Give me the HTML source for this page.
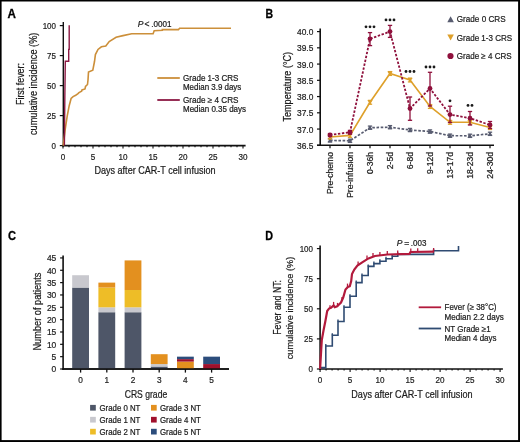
<!DOCTYPE html>
<html><head><meta charset="utf-8"><style>
html,body{margin:0;padding:0;background:#fff;position:relative;width:520px;height:442px;overflow:hidden;}
svg{display:block;filter:blur(0.3px);}
text{font-family:"Liberation Sans", sans-serif;stroke:#1c1c1c;stroke-width:0.22px;}
text.b{stroke:#000;stroke-width:0.3px;}
</style></head><body>
<svg width="520" height="442" viewBox="0 0 520 442">
<rect x="0" y="0" width="520" height="442" fill="#fff"/>
<text x="7.6" y="18.2" font-size="12.8" text-anchor="start" fill="#000" font-weight="bold" class="b" textLength="8.4" lengthAdjust="spacingAndGlyphs" >A</text>
<line x1="63.3" y1="22.0" x2="63.3" y2="146.4" stroke="#111" stroke-width="1.4" />
<line x1="62.2" y1="145.6" x2="245.6" y2="145.6" stroke="#111" stroke-width="1.6" />
<line x1="59.8" y1="145.6" x2="63.0" y2="145.6" stroke="#111" stroke-width="1.2" />
<text x="56" y="149.0" font-size="9.5" text-anchor="end" fill="#1c1c1c" textLength="4.45" lengthAdjust="spacingAndGlyphs" >0</text>
<line x1="59.8" y1="115.6" x2="63.0" y2="115.6" stroke="#111" stroke-width="1.2" />
<text x="56" y="119.0" font-size="9.5" text-anchor="end" fill="#1c1c1c" textLength="8.9" lengthAdjust="spacingAndGlyphs" >25</text>
<line x1="59.8" y1="85.6" x2="63.0" y2="85.6" stroke="#111" stroke-width="1.2" />
<text x="56" y="89.0" font-size="9.5" text-anchor="end" fill="#1c1c1c" textLength="8.9" lengthAdjust="spacingAndGlyphs" >50</text>
<line x1="59.8" y1="55.599999999999994" x2="63.0" y2="55.599999999999994" stroke="#111" stroke-width="1.2" />
<text x="56" y="58.99999999999999" font-size="9.5" text-anchor="end" fill="#1c1c1c" textLength="8.9" lengthAdjust="spacingAndGlyphs" >75</text>
<line x1="59.8" y1="25.599999999999994" x2="63.0" y2="25.599999999999994" stroke="#111" stroke-width="1.2" />
<text x="56" y="28.999999999999993" font-size="9.5" text-anchor="end" fill="#1c1c1c" textLength="13.350000000000001" lengthAdjust="spacingAndGlyphs" >100</text>
<line x1="63.0" y1="145.6" x2="63.0" y2="148.6" stroke="#111" stroke-width="1.1" />
<text x="63.0" y="160.0" font-size="9.3" text-anchor="middle" fill="#1c1c1c" textLength="4.5" lengthAdjust="spacingAndGlyphs" >0</text>
<line x1="69.0" y1="145.6" x2="69.0" y2="147.2" stroke="#111" stroke-width="1.1" />
<line x1="75.0" y1="145.6" x2="75.0" y2="147.2" stroke="#111" stroke-width="1.1" />
<line x1="81.0" y1="145.6" x2="81.0" y2="147.2" stroke="#111" stroke-width="1.1" />
<line x1="87.0" y1="145.6" x2="87.0" y2="147.2" stroke="#111" stroke-width="1.1" />
<line x1="93.0" y1="145.6" x2="93.0" y2="148.6" stroke="#111" stroke-width="1.1" />
<text x="93.0" y="160.0" font-size="9.3" text-anchor="middle" fill="#1c1c1c" textLength="4.5" lengthAdjust="spacingAndGlyphs" >5</text>
<line x1="99.0" y1="145.6" x2="99.0" y2="147.2" stroke="#111" stroke-width="1.1" />
<line x1="105.0" y1="145.6" x2="105.0" y2="147.2" stroke="#111" stroke-width="1.1" />
<line x1="111.0" y1="145.6" x2="111.0" y2="147.2" stroke="#111" stroke-width="1.1" />
<line x1="117.0" y1="145.6" x2="117.0" y2="147.2" stroke="#111" stroke-width="1.1" />
<line x1="123.0" y1="145.6" x2="123.0" y2="148.6" stroke="#111" stroke-width="1.1" />
<text x="123.0" y="160.0" font-size="9.3" text-anchor="middle" fill="#1c1c1c" textLength="9.0" lengthAdjust="spacingAndGlyphs" >10</text>
<line x1="129.0" y1="145.6" x2="129.0" y2="147.2" stroke="#111" stroke-width="1.1" />
<line x1="135.0" y1="145.6" x2="135.0" y2="147.2" stroke="#111" stroke-width="1.1" />
<line x1="141.0" y1="145.6" x2="141.0" y2="147.2" stroke="#111" stroke-width="1.1" />
<line x1="147.0" y1="145.6" x2="147.0" y2="147.2" stroke="#111" stroke-width="1.1" />
<line x1="153.0" y1="145.6" x2="153.0" y2="148.6" stroke="#111" stroke-width="1.1" />
<text x="153.0" y="160.0" font-size="9.3" text-anchor="middle" fill="#1c1c1c" textLength="9.0" lengthAdjust="spacingAndGlyphs" >15</text>
<line x1="159.0" y1="145.6" x2="159.0" y2="147.2" stroke="#111" stroke-width="1.1" />
<line x1="165.0" y1="145.6" x2="165.0" y2="147.2" stroke="#111" stroke-width="1.1" />
<line x1="171.0" y1="145.6" x2="171.0" y2="147.2" stroke="#111" stroke-width="1.1" />
<line x1="177.0" y1="145.6" x2="177.0" y2="147.2" stroke="#111" stroke-width="1.1" />
<line x1="183.0" y1="145.6" x2="183.0" y2="148.6" stroke="#111" stroke-width="1.1" />
<text x="183.0" y="160.0" font-size="9.3" text-anchor="middle" fill="#1c1c1c" textLength="9.0" lengthAdjust="spacingAndGlyphs" >20</text>
<line x1="189.0" y1="145.6" x2="189.0" y2="147.2" stroke="#111" stroke-width="1.1" />
<line x1="195.0" y1="145.6" x2="195.0" y2="147.2" stroke="#111" stroke-width="1.1" />
<line x1="201.0" y1="145.6" x2="201.0" y2="147.2" stroke="#111" stroke-width="1.1" />
<line x1="207.0" y1="145.6" x2="207.0" y2="147.2" stroke="#111" stroke-width="1.1" />
<line x1="213.0" y1="145.6" x2="213.0" y2="148.6" stroke="#111" stroke-width="1.1" />
<text x="213.0" y="160.0" font-size="9.3" text-anchor="middle" fill="#1c1c1c" textLength="9.0" lengthAdjust="spacingAndGlyphs" >25</text>
<line x1="219.0" y1="145.6" x2="219.0" y2="147.2" stroke="#111" stroke-width="1.1" />
<line x1="225.0" y1="145.6" x2="225.0" y2="147.2" stroke="#111" stroke-width="1.1" />
<line x1="231.0" y1="145.6" x2="231.0" y2="147.2" stroke="#111" stroke-width="1.1" />
<line x1="237.0" y1="145.6" x2="237.0" y2="147.2" stroke="#111" stroke-width="1.1" />
<line x1="243.0" y1="145.6" x2="243.0" y2="148.6" stroke="#111" stroke-width="1.1" />
<text x="243.0" y="160.0" font-size="9.3" text-anchor="middle" fill="#1c1c1c" textLength="9.0" lengthAdjust="spacingAndGlyphs" >30</text>
<text x="94.4" y="174.2" font-size="10.6" text-anchor="start" fill="#1c1c1c" textLength="121.2" lengthAdjust="spacingAndGlyphs" >Days after CAR-T cell infusion</text>
<text x="23.8" y="84" font-size="10.0" text-anchor="middle" fill="#1c1c1c" textLength="42" lengthAdjust="spacingAndGlyphs" transform="rotate(-90 23.8 84)" >First fever:</text>
<text x="36.7" y="83.8" font-size="10.0" text-anchor="middle" fill="#1c1c1c" textLength="102.5" lengthAdjust="spacingAndGlyphs" transform="rotate(-90 36.7 83.8)" >cumulative incidence (%)</text>
<text x="137.8" y="27.0" font-size="8.5" text-anchor="start" fill="#1c1c1c" font-style="italic" >P</text>
<text x="144.6" y="27.0" font-size="8.5" text-anchor="start" fill="#1c1c1c" >&lt;</text>
<text x="151.2" y="27.0" font-size="8.5" text-anchor="start" fill="#1c1c1c" textLength="20.2" lengthAdjust="spacingAndGlyphs" >.0001</text>
<polyline points="63.2,145.6 65.2,129.4 67.2,116.2 69.2,105.7 71.1,98.5 73.1,96.6 75.7,95.2 77.7,93.9 79.0,92.6 81.6,91.3 82.0,90.0 85.0,89.0 85.5,86.5 87.5,84.5 88.0,80.0 88.5,72.0 92.8,70.2 94.5,61.5 95.4,54.6 98.0,49.4 101.4,46.8 105.8,46.0 109.2,41.6 116.1,37.3 123.0,35.6 131.7,33.8 153.1,33.8 154.2,30.8 162.3,30.3 162.3,29.6 178.5,29.6 179.6,28.3 231.0,28.3" fill="none" stroke="#cc8f3a" stroke-width="1.6" stroke-linejoin="miter" />
<polyline points="64.4,145.6 64.8,100.0 65.3,61.3 68.7,61.3 68.7,49.4 69.2,49.4 69.2,25.2" fill="none" stroke="#8c1843" stroke-width="1.4" stroke-linejoin="miter" />
<line x1="157.3" y1="78" x2="179.8" y2="78" stroke="#cc8f3a" stroke-width="1.8" />
<text x="183" y="81.3" font-size="8.6" text-anchor="start" fill="#1c1c1c" textLength="55.5" lengthAdjust="spacingAndGlyphs" >Grade 1-3 CRS</text>
<text x="183" y="90.4" font-size="8.6" text-anchor="start" fill="#1c1c1c" textLength="58.3" lengthAdjust="spacingAndGlyphs" >Median 3.9 days</text>
<line x1="157.3" y1="100" x2="179.8" y2="100" stroke="#8c1843" stroke-width="1.8" />
<text x="183" y="103.1" font-size="8.6" text-anchor="start" fill="#1c1c1c" textLength="55.5" lengthAdjust="spacingAndGlyphs" >Grade ≥ 4 CRS</text>
<text x="183" y="112.1" font-size="8.6" text-anchor="start" fill="#1c1c1c" textLength="63" lengthAdjust="spacingAndGlyphs" >Median 0.35 days</text>
<text x="265.5" y="18.3" font-size="12.8" text-anchor="start" fill="#000" font-weight="bold" class="b" textLength="7.6" lengthAdjust="spacingAndGlyphs" >B</text>
<line x1="320.2" y1="28.6" x2="320.2" y2="146.10000000000002" stroke="#111" stroke-width="1.6" />
<line x1="317.0" y1="145.3" x2="494" y2="145.3" stroke="#111" stroke-width="1.6" />
<line x1="317.0" y1="145.3" x2="320.2" y2="145.3" stroke="#111" stroke-width="1.2" />
<text x="313.3" y="148.8" font-size="9.2" text-anchor="end" fill="#1c1c1c" textLength="16.3" lengthAdjust="spacingAndGlyphs" >36.5</text>
<line x1="317.0" y1="129.055" x2="320.2" y2="129.055" stroke="#111" stroke-width="1.2" />
<text x="313.3" y="132.555" font-size="9.2" text-anchor="end" fill="#1c1c1c" textLength="16.3" lengthAdjust="spacingAndGlyphs" >37.0</text>
<line x1="317.0" y1="112.81" x2="320.2" y2="112.81" stroke="#111" stroke-width="1.2" />
<text x="313.3" y="116.31" font-size="9.2" text-anchor="end" fill="#1c1c1c" textLength="16.3" lengthAdjust="spacingAndGlyphs" >37.5</text>
<line x1="317.0" y1="96.56500000000001" x2="320.2" y2="96.56500000000001" stroke="#111" stroke-width="1.2" />
<text x="313.3" y="100.06500000000001" font-size="9.2" text-anchor="end" fill="#1c1c1c" textLength="16.3" lengthAdjust="spacingAndGlyphs" >38.0</text>
<line x1="317.0" y1="80.32000000000001" x2="320.2" y2="80.32000000000001" stroke="#111" stroke-width="1.2" />
<text x="313.3" y="83.82000000000001" font-size="9.2" text-anchor="end" fill="#1c1c1c" textLength="16.3" lengthAdjust="spacingAndGlyphs" >38.5</text>
<line x1="317.0" y1="64.075" x2="320.2" y2="64.075" stroke="#111" stroke-width="1.2" />
<text x="313.3" y="67.575" font-size="9.2" text-anchor="end" fill="#1c1c1c" textLength="16.3" lengthAdjust="spacingAndGlyphs" >39.0</text>
<line x1="317.0" y1="47.83000000000001" x2="320.2" y2="47.83000000000001" stroke="#111" stroke-width="1.2" />
<text x="313.3" y="51.33000000000001" font-size="9.2" text-anchor="end" fill="#1c1c1c" textLength="16.3" lengthAdjust="spacingAndGlyphs" >39.5</text>
<line x1="317.0" y1="31.585000000000008" x2="320.2" y2="31.585000000000008" stroke="#111" stroke-width="1.2" />
<text x="313.3" y="35.08500000000001" font-size="9.2" text-anchor="end" fill="#1c1c1c" textLength="16.3" lengthAdjust="spacingAndGlyphs" >40.0</text>
<line x1="330" y1="145.3" x2="330" y2="148.3" stroke="#111" stroke-width="1.2" />
<text x="333.1" y="152" font-size="8.6" text-anchor="end" fill="#1c1c1c" transform="rotate(-90 333.1 152)" >Pre-chemo</text>
<line x1="350" y1="145.3" x2="350" y2="148.3" stroke="#111" stroke-width="1.2" />
<text x="353.1" y="152" font-size="8.6" text-anchor="end" fill="#1c1c1c" transform="rotate(-90 353.1 152)" >Pre-infusion</text>
<line x1="370" y1="145.3" x2="370" y2="148.3" stroke="#111" stroke-width="1.2" />
<text x="373.1" y="152" font-size="8.6" text-anchor="end" fill="#1c1c1c" transform="rotate(-90 373.1 152)" >0-36h</text>
<line x1="390" y1="145.3" x2="390" y2="148.3" stroke="#111" stroke-width="1.2" />
<text x="393.1" y="152" font-size="8.6" text-anchor="end" fill="#1c1c1c" transform="rotate(-90 393.1 152)" >2-5d</text>
<line x1="410" y1="145.3" x2="410" y2="148.3" stroke="#111" stroke-width="1.2" />
<text x="413.1" y="152" font-size="8.6" text-anchor="end" fill="#1c1c1c" transform="rotate(-90 413.1 152)" >6-8d</text>
<line x1="430" y1="145.3" x2="430" y2="148.3" stroke="#111" stroke-width="1.2" />
<text x="433.1" y="152" font-size="8.6" text-anchor="end" fill="#1c1c1c" transform="rotate(-90 433.1 152)" >9-12d</text>
<line x1="450" y1="145.3" x2="450" y2="148.3" stroke="#111" stroke-width="1.2" />
<text x="453.1" y="152" font-size="8.6" text-anchor="end" fill="#1c1c1c" transform="rotate(-90 453.1 152)" >13-17d</text>
<line x1="470" y1="145.3" x2="470" y2="148.3" stroke="#111" stroke-width="1.2" />
<text x="473.1" y="152" font-size="8.6" text-anchor="end" fill="#1c1c1c" transform="rotate(-90 473.1 152)" >18-23d</text>
<line x1="490" y1="145.3" x2="490" y2="148.3" stroke="#111" stroke-width="1.2" />
<text x="493.1" y="152" font-size="8.6" text-anchor="end" fill="#1c1c1c" transform="rotate(-90 493.1 152)" >24-30d</text>
<text x="291.5" y="86.7" font-size="10.4" text-anchor="middle" fill="#1c1c1c" textLength="69.7" lengthAdjust="spacingAndGlyphs" transform="rotate(-90 291.5 86.7)" >Temperature (°C)</text>
<line x1="330" y1="138.8" x2="330" y2="142.0" stroke="#585c70" stroke-width="1.3" />
<line x1="327.85" y1="138.8" x2="332.15" y2="138.8" stroke="#585c70" stroke-width="1.3" />
<line x1="327.85" y1="142.0" x2="332.15" y2="142.0" stroke="#585c70" stroke-width="1.3" />
<line x1="350" y1="139.20000000000002" x2="350" y2="142.4" stroke="#585c70" stroke-width="1.3" />
<line x1="347.85" y1="139.20000000000002" x2="352.15" y2="139.20000000000002" stroke="#585c70" stroke-width="1.3" />
<line x1="347.85" y1="142.4" x2="352.15" y2="142.4" stroke="#585c70" stroke-width="1.3" />
<line x1="370" y1="126.10000000000001" x2="370" y2="129.3" stroke="#585c70" stroke-width="1.3" />
<line x1="367.85" y1="126.10000000000001" x2="372.15" y2="126.10000000000001" stroke="#585c70" stroke-width="1.3" />
<line x1="367.85" y1="129.3" x2="372.15" y2="129.3" stroke="#585c70" stroke-width="1.3" />
<line x1="390" y1="125.60000000000001" x2="390" y2="128.8" stroke="#585c70" stroke-width="1.3" />
<line x1="387.85" y1="125.60000000000001" x2="392.15" y2="125.60000000000001" stroke="#585c70" stroke-width="1.3" />
<line x1="387.85" y1="128.8" x2="392.15" y2="128.8" stroke="#585c70" stroke-width="1.3" />
<line x1="410" y1="128.4" x2="410" y2="131.6" stroke="#585c70" stroke-width="1.3" />
<line x1="407.85" y1="128.4" x2="412.15" y2="128.4" stroke="#585c70" stroke-width="1.3" />
<line x1="407.85" y1="131.6" x2="412.15" y2="131.6" stroke="#585c70" stroke-width="1.3" />
<line x1="430" y1="129.9" x2="430" y2="133.1" stroke="#585c70" stroke-width="1.3" />
<line x1="427.85" y1="129.9" x2="432.15" y2="129.9" stroke="#585c70" stroke-width="1.3" />
<line x1="427.85" y1="133.1" x2="432.15" y2="133.1" stroke="#585c70" stroke-width="1.3" />
<line x1="450" y1="134.1" x2="450" y2="137.29999999999998" stroke="#585c70" stroke-width="1.3" />
<line x1="447.85" y1="134.1" x2="452.15" y2="134.1" stroke="#585c70" stroke-width="1.3" />
<line x1="447.85" y1="137.29999999999998" x2="452.15" y2="137.29999999999998" stroke="#585c70" stroke-width="1.3" />
<line x1="470" y1="134.20000000000002" x2="470" y2="137.4" stroke="#585c70" stroke-width="1.3" />
<line x1="467.85" y1="134.20000000000002" x2="472.15" y2="134.20000000000002" stroke="#585c70" stroke-width="1.3" />
<line x1="467.85" y1="137.4" x2="472.15" y2="137.4" stroke="#585c70" stroke-width="1.3" />
<line x1="490" y1="132.20000000000002" x2="490" y2="135.4" stroke="#585c70" stroke-width="1.3" />
<line x1="487.85" y1="132.20000000000002" x2="492.15" y2="132.20000000000002" stroke="#585c70" stroke-width="1.3" />
<line x1="487.85" y1="135.4" x2="492.15" y2="135.4" stroke="#585c70" stroke-width="1.3" />
<polyline points="330.0,140.4 350.0,140.8 370.0,127.7 390.0,127.2 410.0,130.0 430.0,131.5 450.0,135.7 470.0,135.8 490.0,133.8" fill="none" stroke="#585c70" stroke-width="1.7" stroke-linejoin="miter" stroke-dasharray="2.6 1.6"/>
<polygon points="327.6,142.3 332.4,142.3 330,138.1" fill="#585c70"/>
<polygon points="347.6,142.70000000000002 352.4,142.70000000000002 350,138.5" fill="#585c70"/>
<polygon points="367.6,129.6 372.4,129.6 370,125.4" fill="#585c70"/>
<polygon points="387.6,129.1 392.4,129.1 390,124.9" fill="#585c70"/>
<polygon points="407.6,131.9 412.4,131.9 410,127.7" fill="#585c70"/>
<polygon points="427.6,133.4 432.4,133.4 430,129.2" fill="#585c70"/>
<polygon points="447.6,137.6 452.4,137.6 450,133.39999999999998" fill="#585c70"/>
<polygon points="467.6,137.70000000000002 472.4,137.70000000000002 470,133.5" fill="#585c70"/>
<polygon points="487.6,135.70000000000002 492.4,135.70000000000002 490,131.5" fill="#585c70"/>
<line x1="330" y1="135.1" x2="330" y2="138.9" stroke="#dea02a" stroke-width="1.3" />
<line x1="327.85" y1="135.1" x2="332.15" y2="135.1" stroke="#dea02a" stroke-width="1.3" />
<line x1="327.85" y1="138.9" x2="332.15" y2="138.9" stroke="#dea02a" stroke-width="1.3" />
<line x1="350" y1="133.5" x2="350" y2="137.3" stroke="#dea02a" stroke-width="1.3" />
<line x1="347.85" y1="133.5" x2="352.15" y2="133.5" stroke="#dea02a" stroke-width="1.3" />
<line x1="347.85" y1="137.3" x2="352.15" y2="137.3" stroke="#dea02a" stroke-width="1.3" />
<line x1="370" y1="100.39999999999999" x2="370" y2="104.2" stroke="#dea02a" stroke-width="1.3" />
<line x1="367.85" y1="100.39999999999999" x2="372.15" y2="100.39999999999999" stroke="#dea02a" stroke-width="1.3" />
<line x1="367.85" y1="104.2" x2="372.15" y2="104.2" stroke="#dea02a" stroke-width="1.3" />
<line x1="390" y1="71.6" x2="390" y2="75.4" stroke="#dea02a" stroke-width="1.3" />
<line x1="387.85" y1="71.6" x2="392.15" y2="71.6" stroke="#dea02a" stroke-width="1.3" />
<line x1="387.85" y1="75.4" x2="392.15" y2="75.4" stroke="#dea02a" stroke-width="1.3" />
<line x1="410" y1="78.1" x2="410" y2="81.9" stroke="#dea02a" stroke-width="1.3" />
<line x1="407.85" y1="78.1" x2="412.15" y2="78.1" stroke="#dea02a" stroke-width="1.3" />
<line x1="407.85" y1="81.9" x2="412.15" y2="81.9" stroke="#dea02a" stroke-width="1.3" />
<line x1="430" y1="104.6" x2="430" y2="108.4" stroke="#dea02a" stroke-width="1.3" />
<line x1="427.85" y1="104.6" x2="432.15" y2="104.6" stroke="#dea02a" stroke-width="1.3" />
<line x1="427.85" y1="108.4" x2="432.15" y2="108.4" stroke="#dea02a" stroke-width="1.3" />
<line x1="450" y1="120.39999999999999" x2="450" y2="124.2" stroke="#dea02a" stroke-width="1.3" />
<line x1="447.85" y1="120.39999999999999" x2="452.15" y2="120.39999999999999" stroke="#dea02a" stroke-width="1.3" />
<line x1="447.85" y1="124.2" x2="452.15" y2="124.2" stroke="#dea02a" stroke-width="1.3" />
<line x1="470" y1="120.39999999999999" x2="470" y2="124.2" stroke="#dea02a" stroke-width="1.3" />
<line x1="467.85" y1="120.39999999999999" x2="472.15" y2="120.39999999999999" stroke="#dea02a" stroke-width="1.3" />
<line x1="467.85" y1="124.2" x2="472.15" y2="124.2" stroke="#dea02a" stroke-width="1.3" />
<line x1="490" y1="125.69999999999999" x2="490" y2="129.5" stroke="#dea02a" stroke-width="1.3" />
<line x1="487.85" y1="125.69999999999999" x2="492.15" y2="125.69999999999999" stroke="#dea02a" stroke-width="1.3" />
<line x1="487.85" y1="129.5" x2="492.15" y2="129.5" stroke="#dea02a" stroke-width="1.3" />
<polyline points="330.0,137.0 350.0,135.4 370.0,102.3 390.0,73.5 410.0,80.0 430.0,106.5 450.0,122.3 470.0,122.3 490.0,127.6" fill="none" stroke="#dea02a" stroke-width="1.6" stroke-linejoin="miter" />
<polygon points="327.5,135.0 332.5,135.0 330,139.4" fill="#dea02a"/>
<polygon points="347.5,133.4 352.5,133.4 350,137.8" fill="#dea02a"/>
<polygon points="367.5,100.3 372.5,100.3 370,104.7" fill="#dea02a"/>
<polygon points="387.5,71.5 392.5,71.5 390,75.9" fill="#dea02a"/>
<polygon points="407.5,78 412.5,78 410,82.4" fill="#dea02a"/>
<polygon points="427.5,104.5 432.5,104.5 430,108.9" fill="#dea02a"/>
<polygon points="447.5,120.3 452.5,120.3 450,124.7" fill="#dea02a"/>
<polygon points="467.5,120.3 472.5,120.3 470,124.7" fill="#dea02a"/>
<polygon points="487.5,125.6 492.5,125.6 490,130.0" fill="#dea02a"/>
<line x1="330" y1="133.6" x2="330" y2="136.6" stroke="#8f103c" stroke-width="1.3" />
<line x1="327.85" y1="133.6" x2="332.15" y2="133.6" stroke="#8f103c" stroke-width="1.3" />
<line x1="327.85" y1="136.6" x2="332.15" y2="136.6" stroke="#8f103c" stroke-width="1.3" />
<line x1="350" y1="130.4" x2="350" y2="134.2" stroke="#8f103c" stroke-width="1.3" />
<line x1="347.85" y1="130.4" x2="352.15" y2="130.4" stroke="#8f103c" stroke-width="1.3" />
<line x1="347.85" y1="134.2" x2="352.15" y2="134.2" stroke="#8f103c" stroke-width="1.3" />
<line x1="370" y1="32.6" x2="370" y2="45.6" stroke="#8f103c" stroke-width="1.3" />
<line x1="367.85" y1="32.6" x2="372.15" y2="32.6" stroke="#8f103c" stroke-width="1.3" />
<line x1="367.85" y1="45.6" x2="372.15" y2="45.6" stroke="#8f103c" stroke-width="1.3" />
<line x1="390" y1="25.4" x2="390" y2="37.4" stroke="#8f103c" stroke-width="1.3" />
<line x1="387.85" y1="25.4" x2="392.15" y2="25.4" stroke="#8f103c" stroke-width="1.3" />
<line x1="387.85" y1="37.4" x2="392.15" y2="37.4" stroke="#8f103c" stroke-width="1.3" />
<line x1="410" y1="97" x2="410" y2="120.3" stroke="#8f103c" stroke-width="1.3" />
<line x1="407.85" y1="97" x2="412.15" y2="97" stroke="#8f103c" stroke-width="1.3" />
<line x1="407.85" y1="120.3" x2="412.15" y2="120.3" stroke="#8f103c" stroke-width="1.3" />
<line x1="430" y1="72.3" x2="430" y2="106" stroke="#8f103c" stroke-width="1.3" />
<line x1="427.85" y1="72.3" x2="432.15" y2="72.3" stroke="#8f103c" stroke-width="1.3" />
<line x1="427.85" y1="106" x2="432.15" y2="106" stroke="#8f103c" stroke-width="1.3" />
<line x1="450" y1="106.2" x2="450" y2="122.5" stroke="#8f103c" stroke-width="1.3" />
<line x1="447.85" y1="106.2" x2="452.15" y2="106.2" stroke="#8f103c" stroke-width="1.3" />
<line x1="447.85" y1="122.5" x2="452.15" y2="122.5" stroke="#8f103c" stroke-width="1.3" />
<line x1="470" y1="111.5" x2="470" y2="125" stroke="#8f103c" stroke-width="1.3" />
<line x1="467.85" y1="111.5" x2="472.15" y2="111.5" stroke="#8f103c" stroke-width="1.3" />
<line x1="467.85" y1="125" x2="472.15" y2="125" stroke="#8f103c" stroke-width="1.3" />
<line x1="490" y1="121.5" x2="490" y2="128.5" stroke="#8f103c" stroke-width="1.3" />
<line x1="487.85" y1="121.5" x2="492.15" y2="121.5" stroke="#8f103c" stroke-width="1.3" />
<line x1="487.85" y1="128.5" x2="492.15" y2="128.5" stroke="#8f103c" stroke-width="1.3" />
<polyline points="330.0,135.0 350.0,132.2 370.0,38.8 390.0,31.6 410.0,108.5 430.0,88.5 450.0,114.6 470.0,118.2 490.0,125.0" fill="none" stroke="#8f103c" stroke-width="1.8" stroke-linejoin="miter" stroke-dasharray="2.4 1.6"/>
<circle cx="330" cy="135.0" r="2.4" fill="#8f103c"/>
<circle cx="350" cy="132.2" r="2.4" fill="#8f103c"/>
<circle cx="370" cy="38.8" r="2.4" fill="#8f103c"/>
<circle cx="390" cy="31.6" r="2.4" fill="#8f103c"/>
<circle cx="410" cy="108.5" r="2.4" fill="#8f103c"/>
<circle cx="430" cy="88.5" r="2.4" fill="#8f103c"/>
<circle cx="450" cy="114.6" r="2.4" fill="#8f103c"/>
<circle cx="470" cy="118.2" r="2.4" fill="#8f103c"/>
<circle cx="490" cy="125" r="2.4" fill="#8f103c"/>
<circle cx="366.00" cy="26.8" r="1.4" fill="#1a1a1a"/>
<circle cx="370.00" cy="26.8" r="1.4" fill="#1a1a1a"/>
<circle cx="374.00" cy="26.8" r="1.4" fill="#1a1a1a"/>
<circle cx="386.00" cy="19.9" r="1.4" fill="#1a1a1a"/>
<circle cx="390.00" cy="19.9" r="1.4" fill="#1a1a1a"/>
<circle cx="394.00" cy="19.9" r="1.4" fill="#1a1a1a"/>
<circle cx="406.00" cy="71.5" r="1.4" fill="#1a1a1a"/>
<circle cx="410.00" cy="71.5" r="1.4" fill="#1a1a1a"/>
<circle cx="414.00" cy="71.5" r="1.4" fill="#1a1a1a"/>
<circle cx="426.00" cy="67" r="1.4" fill="#1a1a1a"/>
<circle cx="430.00" cy="67" r="1.4" fill="#1a1a1a"/>
<circle cx="434.00" cy="67" r="1.4" fill="#1a1a1a"/>
<circle cx="450.00" cy="100.8" r="1.4" fill="#1a1a1a"/>
<circle cx="468.00" cy="105.4" r="1.4" fill="#1a1a1a"/>
<circle cx="472.00" cy="105.4" r="1.4" fill="#1a1a1a"/>
<polygon points="447.3,22.3 453.9,22.3 450.6,16.2" fill="#585c70"/>
<text x="456.8" y="22.3" font-size="8.9" text-anchor="start" fill="#1c1c1c" textLength="48.8" lengthAdjust="spacingAndGlyphs" >Grade 0 CRS</text>
<polygon points="447.3,34.4 453.9,34.4 450.6,40.5" fill="#dea02a"/>
<text x="456.8" y="40.5" font-size="8.9" text-anchor="start" fill="#1c1c1c" textLength="55.4" lengthAdjust="spacingAndGlyphs" >Grade 1-3 CRS</text>
<circle cx="450.5" cy="56" r="3.1" fill="#8f103c"/>
<text x="456.8" y="59.1" font-size="8.9" text-anchor="start" fill="#1c1c1c" textLength="54.9" lengthAdjust="spacingAndGlyphs" >Grade ≥ 4 CRS</text>
<text x="8.1" y="239.6" font-size="12.8" text-anchor="start" fill="#000" font-weight="bold" class="b" textLength="8.0" lengthAdjust="spacingAndGlyphs" >C</text>
<line x1="63.1" y1="255.4" x2="63.1" y2="369.8" stroke="#111" stroke-width="1.6" />
<line x1="62.5" y1="369.0" x2="229" y2="369.0" stroke="#111" stroke-width="1.3" />
<line x1="60.1" y1="369.0" x2="63.1" y2="369.0" stroke="#111" stroke-width="1.2" />
<text x="56.3" y="372.4" font-size="9.6" text-anchor="end" fill="#1c1c1c" textLength="4.7" lengthAdjust="spacingAndGlyphs" >0</text>
<line x1="60.1" y1="356.66" x2="63.1" y2="356.66" stroke="#111" stroke-width="1.2" />
<text x="56.3" y="360.06" font-size="9.6" text-anchor="end" fill="#1c1c1c" textLength="4.7" lengthAdjust="spacingAndGlyphs" >5</text>
<line x1="60.1" y1="344.32" x2="63.1" y2="344.32" stroke="#111" stroke-width="1.2" />
<text x="56.3" y="347.71999999999997" font-size="9.6" text-anchor="end" fill="#1c1c1c" textLength="9.4" lengthAdjust="spacingAndGlyphs" >10</text>
<line x1="60.1" y1="331.98" x2="63.1" y2="331.98" stroke="#111" stroke-width="1.2" />
<text x="56.3" y="335.38" font-size="9.6" text-anchor="end" fill="#1c1c1c" textLength="9.4" lengthAdjust="spacingAndGlyphs" >15</text>
<line x1="60.1" y1="319.64" x2="63.1" y2="319.64" stroke="#111" stroke-width="1.2" />
<text x="56.3" y="323.03999999999996" font-size="9.6" text-anchor="end" fill="#1c1c1c" textLength="9.4" lengthAdjust="spacingAndGlyphs" >20</text>
<line x1="60.1" y1="307.3" x2="63.1" y2="307.3" stroke="#111" stroke-width="1.2" />
<text x="56.3" y="310.7" font-size="9.6" text-anchor="end" fill="#1c1c1c" textLength="9.4" lengthAdjust="spacingAndGlyphs" >25</text>
<line x1="60.1" y1="294.96000000000004" x2="63.1" y2="294.96000000000004" stroke="#111" stroke-width="1.2" />
<text x="56.3" y="298.36" font-size="9.6" text-anchor="end" fill="#1c1c1c" textLength="9.4" lengthAdjust="spacingAndGlyphs" >30</text>
<line x1="60.1" y1="282.62" x2="63.1" y2="282.62" stroke="#111" stroke-width="1.2" />
<text x="56.3" y="286.02" font-size="9.6" text-anchor="end" fill="#1c1c1c" textLength="9.4" lengthAdjust="spacingAndGlyphs" >35</text>
<line x1="60.1" y1="270.28" x2="63.1" y2="270.28" stroke="#111" stroke-width="1.2" />
<text x="56.3" y="273.67999999999995" font-size="9.6" text-anchor="end" fill="#1c1c1c" textLength="9.4" lengthAdjust="spacingAndGlyphs" >40</text>
<line x1="60.1" y1="257.94" x2="63.1" y2="257.94" stroke="#111" stroke-width="1.2" />
<text x="56.3" y="261.34" font-size="9.6" text-anchor="end" fill="#1c1c1c" textLength="9.4" lengthAdjust="spacingAndGlyphs" >45</text>
<rect x="72.20" y="287.56" width="16.8" height="81.44" fill="#4e5668"/>
<rect x="72.20" y="275.22" width="16.8" height="12.34" fill="#c8c8ce"/>
<rect x="98.40" y="312.24" width="16.8" height="56.76" fill="#4e5668"/>
<rect x="98.40" y="307.30" width="16.8" height="4.94" fill="#c8c8ce"/>
<rect x="98.40" y="287.56" width="16.8" height="19.74" fill="#eebd27"/>
<rect x="98.40" y="282.62" width="16.8" height="4.94" fill="#e3901f"/>
<rect x="124.60" y="312.24" width="16.8" height="56.76" fill="#4e5668"/>
<rect x="124.60" y="307.30" width="16.8" height="4.94" fill="#c8c8ce"/>
<rect x="124.60" y="290.02" width="16.8" height="17.28" fill="#eebd27"/>
<rect x="124.60" y="260.41" width="16.8" height="29.62" fill="#e3901f"/>
<rect x="150.80" y="366.53" width="16.8" height="2.47" fill="#4e5668"/>
<rect x="150.80" y="364.06" width="16.8" height="2.47" fill="#c8c8ce"/>
<rect x="150.80" y="354.19" width="16.8" height="9.87" fill="#e3901f"/>
<rect x="177.00" y="361.60" width="16.8" height="7.40" fill="#e3901f"/>
<rect x="177.00" y="359.13" width="16.8" height="2.47" fill="#a0102c"/>
<rect x="177.00" y="356.66" width="16.8" height="2.47" fill="#2c4d7c"/>
<rect x="203.20" y="364.06" width="16.8" height="4.94" fill="#a0102c"/>
<rect x="203.20" y="356.66" width="16.8" height="7.40" fill="#2c4d7c"/>
<line x1="80.6" y1="369.0" x2="80.6" y2="372.6" stroke="#111" stroke-width="1.3" />
<text x="80.6" y="383.4" font-size="9.3" text-anchor="middle" fill="#1c1c1c" textLength="4.6" lengthAdjust="spacingAndGlyphs" >0</text>
<line x1="106.8" y1="369.0" x2="106.8" y2="372.6" stroke="#111" stroke-width="1.3" />
<text x="106.8" y="383.4" font-size="9.3" text-anchor="middle" fill="#1c1c1c" textLength="4.6" lengthAdjust="spacingAndGlyphs" >1</text>
<line x1="133.0" y1="369.0" x2="133.0" y2="372.6" stroke="#111" stroke-width="1.3" />
<text x="133.0" y="383.4" font-size="9.3" text-anchor="middle" fill="#1c1c1c" textLength="4.6" lengthAdjust="spacingAndGlyphs" >2</text>
<line x1="159.2" y1="369.0" x2="159.2" y2="372.6" stroke="#111" stroke-width="1.3" />
<text x="159.2" y="383.4" font-size="9.3" text-anchor="middle" fill="#1c1c1c" textLength="4.6" lengthAdjust="spacingAndGlyphs" >3</text>
<line x1="185.39999999999998" y1="369.0" x2="185.39999999999998" y2="372.6" stroke="#111" stroke-width="1.3" />
<text x="185.39999999999998" y="383.4" font-size="9.3" text-anchor="middle" fill="#1c1c1c" textLength="4.6" lengthAdjust="spacingAndGlyphs" >4</text>
<line x1="211.6" y1="369.0" x2="211.6" y2="372.6" stroke="#111" stroke-width="1.3" />
<text x="211.6" y="383.4" font-size="9.3" text-anchor="middle" fill="#1c1c1c" textLength="4.6" lengthAdjust="spacingAndGlyphs" >5</text>
<line x1="62.300000000000004" y1="369.0" x2="229" y2="369.0" stroke="#111" stroke-width="1.6" />
<text x="124.7" y="397.8" font-size="10.3" text-anchor="start" fill="#1c1c1c" textLength="42.5" lengthAdjust="spacingAndGlyphs" >CRS grade</text>
<text x="41.4" y="311.6" font-size="10.2" text-anchor="middle" fill="#1c1c1c" textLength="78" lengthAdjust="spacingAndGlyphs" transform="rotate(-90 41.4 311.6)" >Number of patients</text>
<rect x="90.1" y="404.90" width="5.7" height="5.7" fill="#4e5668"/>
<text x="99.5" y="410.8" font-size="8.4" text-anchor="start" fill="#1c1c1c" textLength="40.9" lengthAdjust="spacingAndGlyphs" >Grade 0 NT</text>
<rect x="90.1" y="416.85" width="5.7" height="5.7" fill="#c8c8ce"/>
<text x="99.5" y="422.75" font-size="8.4" text-anchor="start" fill="#1c1c1c" textLength="40.9" lengthAdjust="spacingAndGlyphs" >Grade 1 NT</text>
<rect x="90.1" y="428.80" width="5.7" height="5.7" fill="#eebd27"/>
<text x="99.5" y="434.7" font-size="8.4" text-anchor="start" fill="#1c1c1c" textLength="40.9" lengthAdjust="spacingAndGlyphs" >Grade 2 NT</text>
<rect x="151" y="404.90" width="5.7" height="5.7" fill="#e3901f"/>
<text x="160" y="410.8" font-size="8.4" text-anchor="start" fill="#1c1c1c" textLength="40.9" lengthAdjust="spacingAndGlyphs" >Grade 3 NT</text>
<rect x="151" y="416.85" width="5.7" height="5.7" fill="#a0102c"/>
<text x="160" y="422.75" font-size="8.4" text-anchor="start" fill="#1c1c1c" textLength="40.9" lengthAdjust="spacingAndGlyphs" >Grade 4 NT</text>
<rect x="151" y="428.80" width="5.7" height="5.7" fill="#2c4d7c"/>
<text x="160" y="434.7" font-size="8.4" text-anchor="start" fill="#1c1c1c" textLength="40.9" lengthAdjust="spacingAndGlyphs" >Grade 5 NT</text>
<text x="265.2" y="239.8" font-size="12.8" text-anchor="start" fill="#000" font-weight="bold" class="b" textLength="7.8" lengthAdjust="spacingAndGlyphs" >D</text>
<line x1="320.1" y1="245.4" x2="320.1" y2="369.8" stroke="#111" stroke-width="1.6" />
<line x1="319.3" y1="369.0" x2="502.90000000000003" y2="369.0" stroke="#111" stroke-width="1.6" />
<line x1="316.90000000000003" y1="369.0" x2="320.1" y2="369.0" stroke="#111" stroke-width="1.2" />
<text x="313" y="372.4" font-size="9.5" text-anchor="end" fill="#1c1c1c" textLength="4.45" lengthAdjust="spacingAndGlyphs" >0</text>
<line x1="316.90000000000003" y1="338.9" x2="320.1" y2="338.9" stroke="#111" stroke-width="1.2" />
<text x="313" y="342.29999999999995" font-size="9.5" text-anchor="end" fill="#1c1c1c" textLength="8.9" lengthAdjust="spacingAndGlyphs" >25</text>
<line x1="316.90000000000003" y1="308.8" x2="320.1" y2="308.8" stroke="#111" stroke-width="1.2" />
<text x="313" y="312.2" font-size="9.5" text-anchor="end" fill="#1c1c1c" textLength="8.9" lengthAdjust="spacingAndGlyphs" >50</text>
<line x1="316.90000000000003" y1="278.7" x2="320.1" y2="278.7" stroke="#111" stroke-width="1.2" />
<text x="313" y="282.09999999999997" font-size="9.5" text-anchor="end" fill="#1c1c1c" textLength="8.9" lengthAdjust="spacingAndGlyphs" >75</text>
<line x1="316.90000000000003" y1="248.60000000000002" x2="320.1" y2="248.60000000000002" stroke="#111" stroke-width="1.2" />
<text x="313" y="252.00000000000003" font-size="9.5" text-anchor="end" fill="#1c1c1c" textLength="13.350000000000001" lengthAdjust="spacingAndGlyphs" >100</text>
<line x1="320.1" y1="369.0" x2="320.1" y2="372.0" stroke="#111" stroke-width="1.1" />
<text x="320.1" y="383.4" font-size="9.3" text-anchor="middle" fill="#1c1c1c" textLength="4.5" lengthAdjust="spacingAndGlyphs" >0</text>
<line x1="326.1" y1="369.0" x2="326.1" y2="370.6" stroke="#111" stroke-width="1.1" />
<line x1="332.1" y1="369.0" x2="332.1" y2="370.6" stroke="#111" stroke-width="1.1" />
<line x1="338.1" y1="369.0" x2="338.1" y2="370.6" stroke="#111" stroke-width="1.1" />
<line x1="344.1" y1="369.0" x2="344.1" y2="370.6" stroke="#111" stroke-width="1.1" />
<line x1="350.1" y1="369.0" x2="350.1" y2="372.0" stroke="#111" stroke-width="1.1" />
<text x="350.1" y="383.4" font-size="9.3" text-anchor="middle" fill="#1c1c1c" textLength="4.5" lengthAdjust="spacingAndGlyphs" >5</text>
<line x1="356.1" y1="369.0" x2="356.1" y2="370.6" stroke="#111" stroke-width="1.1" />
<line x1="362.1" y1="369.0" x2="362.1" y2="370.6" stroke="#111" stroke-width="1.1" />
<line x1="368.1" y1="369.0" x2="368.1" y2="370.6" stroke="#111" stroke-width="1.1" />
<line x1="374.1" y1="369.0" x2="374.1" y2="370.6" stroke="#111" stroke-width="1.1" />
<line x1="380.1" y1="369.0" x2="380.1" y2="372.0" stroke="#111" stroke-width="1.1" />
<text x="380.1" y="383.4" font-size="9.3" text-anchor="middle" fill="#1c1c1c" textLength="9.0" lengthAdjust="spacingAndGlyphs" >10</text>
<line x1="386.1" y1="369.0" x2="386.1" y2="370.6" stroke="#111" stroke-width="1.1" />
<line x1="392.1" y1="369.0" x2="392.1" y2="370.6" stroke="#111" stroke-width="1.1" />
<line x1="398.1" y1="369.0" x2="398.1" y2="370.6" stroke="#111" stroke-width="1.1" />
<line x1="404.1" y1="369.0" x2="404.1" y2="370.6" stroke="#111" stroke-width="1.1" />
<line x1="410.1" y1="369.0" x2="410.1" y2="372.0" stroke="#111" stroke-width="1.1" />
<text x="410.1" y="383.4" font-size="9.3" text-anchor="middle" fill="#1c1c1c" textLength="9.0" lengthAdjust="spacingAndGlyphs" >15</text>
<line x1="416.1" y1="369.0" x2="416.1" y2="370.6" stroke="#111" stroke-width="1.1" />
<line x1="422.1" y1="369.0" x2="422.1" y2="370.6" stroke="#111" stroke-width="1.1" />
<line x1="428.1" y1="369.0" x2="428.1" y2="370.6" stroke="#111" stroke-width="1.1" />
<line x1="434.1" y1="369.0" x2="434.1" y2="370.6" stroke="#111" stroke-width="1.1" />
<line x1="440.1" y1="369.0" x2="440.1" y2="372.0" stroke="#111" stroke-width="1.1" />
<text x="440.1" y="383.4" font-size="9.3" text-anchor="middle" fill="#1c1c1c" textLength="9.0" lengthAdjust="spacingAndGlyphs" >20</text>
<line x1="446.1" y1="369.0" x2="446.1" y2="370.6" stroke="#111" stroke-width="1.1" />
<line x1="452.1" y1="369.0" x2="452.1" y2="370.6" stroke="#111" stroke-width="1.1" />
<line x1="458.1" y1="369.0" x2="458.1" y2="370.6" stroke="#111" stroke-width="1.1" />
<line x1="464.1" y1="369.0" x2="464.1" y2="370.6" stroke="#111" stroke-width="1.1" />
<line x1="470.1" y1="369.0" x2="470.1" y2="372.0" stroke="#111" stroke-width="1.1" />
<text x="470.1" y="383.4" font-size="9.3" text-anchor="middle" fill="#1c1c1c" textLength="9.0" lengthAdjust="spacingAndGlyphs" >25</text>
<line x1="476.1" y1="369.0" x2="476.1" y2="370.6" stroke="#111" stroke-width="1.1" />
<line x1="482.1" y1="369.0" x2="482.1" y2="370.6" stroke="#111" stroke-width="1.1" />
<line x1="488.1" y1="369.0" x2="488.1" y2="370.6" stroke="#111" stroke-width="1.1" />
<line x1="494.1" y1="369.0" x2="494.1" y2="370.6" stroke="#111" stroke-width="1.1" />
<line x1="500.1" y1="369.0" x2="500.1" y2="372.0" stroke="#111" stroke-width="1.1" />
<text x="500.1" y="383.4" font-size="9.3" text-anchor="middle" fill="#1c1c1c" textLength="9.0" lengthAdjust="spacingAndGlyphs" >30</text>
<text x="351.3" y="397.5" font-size="10.6" text-anchor="start" fill="#1c1c1c" textLength="121.2" lengthAdjust="spacingAndGlyphs" >Days after CAR-T cell infusion</text>
<text x="281.0" y="307.4" font-size="10.0" text-anchor="middle" fill="#1c1c1c" textLength="54.8" lengthAdjust="spacingAndGlyphs" transform="rotate(-90 281.0 307.4)" >Fever and NT:</text>
<text x="293.3" y="308.0" font-size="9.8" text-anchor="middle" fill="#1c1c1c" textLength="102.5" lengthAdjust="spacingAndGlyphs" transform="rotate(-90 293.3 308.0)" >cumulative incidence (%)</text>
<text x="396.8" y="245.5" font-size="8.5" text-anchor="start" fill="#1c1c1c" font-style="italic" >P</text>
<text x="404.2" y="245.5" font-size="8.5" text-anchor="start" fill="#1c1c1c" >=</text>
<text x="410.8" y="245.5" font-size="8.5" text-anchor="start" fill="#1c1c1c" textLength="15.6" lengthAdjust="spacingAndGlyphs" >.003</text>
<polyline points="320.1,367.6 325.8,367.6 325.8,346.0 332.3,346.0 332.3,335.2 338.0,335.2 338.0,321.5 344.0,321.5 344.0,307.2 350.0,307.2 350.0,296.3 356.2,296.3 356.2,282.6 362.0,282.6 362.0,275.5 368.2,275.5 368.2,266.4 373.9,266.4 373.9,263.6 379.9,263.6 379.9,261.3 386.0,261.3 386.0,258.8 392.2,258.8 392.2,256.2 397.8,256.2 397.8,254.4 433.6,254.4 433.6,250.8 458.5,250.8 458.5,246.0" fill="none" stroke="#2f4b72" stroke-width="1.6" stroke-linejoin="miter" />
<line x1="325.8" y1="346.0" x2="325.8" y2="344.0" stroke="#2f4b72" stroke-width="1.4" />
<line x1="332.3" y1="335.2" x2="332.3" y2="333.2" stroke="#2f4b72" stroke-width="1.4" />
<line x1="338" y1="321.5" x2="338" y2="319.5" stroke="#2f4b72" stroke-width="1.4" />
<line x1="344" y1="307.2" x2="344" y2="305.2" stroke="#2f4b72" stroke-width="1.4" />
<line x1="350" y1="296.3" x2="350" y2="294.3" stroke="#2f4b72" stroke-width="1.4" />
<line x1="356.2" y1="282.6" x2="356.2" y2="280.6" stroke="#2f4b72" stroke-width="1.4" />
<line x1="362" y1="275.5" x2="362" y2="273.5" stroke="#2f4b72" stroke-width="1.4" />
<line x1="368.2" y1="266.4" x2="368.2" y2="264.4" stroke="#2f4b72" stroke-width="1.4" />
<line x1="373.9" y1="263.6" x2="373.9" y2="261.6" stroke="#2f4b72" stroke-width="1.4" />
<line x1="379.9" y1="261.3" x2="379.9" y2="259.3" stroke="#2f4b72" stroke-width="1.4" />
<line x1="386" y1="258.8" x2="386" y2="256.8" stroke="#2f4b72" stroke-width="1.4" />
<line x1="392.2" y1="256.2" x2="392.2" y2="254.2" stroke="#2f4b72" stroke-width="1.4" />
<line x1="397.8" y1="254.4" x2="397.8" y2="252.4" stroke="#2f4b72" stroke-width="1.4" />
<line x1="433.6" y1="250.8" x2="433.6" y2="248.8" stroke="#2f4b72" stroke-width="1.4" />
<polyline points="320.1,369.0 320.5,362.0 321.2,350.0 321.8,340.0 323.6,330.0 325.4,321.0 327.2,311.0 329.0,308.6 331.0,307.8 333.6,305.5 334.8,307.2 337.2,306.3 339.0,304.5 341.0,302.5 343.2,297.5 345.5,289.5 347.9,287.0 349.8,286.2 351.2,281.0 352.0,274.0 354.3,269.5 357.4,265.6 362.2,262.4 368.5,258.4 374.9,256.0 387.5,254.5 409.5,253.8 410.5,252.0 434.0,251.6" fill="none" stroke="#b21a3c" stroke-width="2.2" stroke-linejoin="miter" />
<line x1="330" y1="308.8" x2="330" y2="305.2" stroke="#b21a3c" stroke-width="1.3" />
<line x1="333.6" y1="305.5" x2="333.6" y2="301.9" stroke="#b21a3c" stroke-width="1.3" />
<line x1="337.5" y1="306.5" x2="337.5" y2="302.9" stroke="#b21a3c" stroke-width="1.3" />
<line x1="342" y1="300.5" x2="342" y2="296.9" stroke="#b21a3c" stroke-width="1.3" />
<line x1="347.5" y1="287.2" x2="347.5" y2="283.59999999999997" stroke="#b21a3c" stroke-width="1.3" />
<line x1="358.1" y1="265" x2="358.1" y2="261.4" stroke="#b21a3c" stroke-width="1.3" />
<line x1="367" y1="259" x2="367" y2="255.4" stroke="#b21a3c" stroke-width="1.3" />
<line x1="373" y1="256.5" x2="373" y2="252.9" stroke="#b21a3c" stroke-width="1.3" />
<line x1="379.9" y1="255.5" x2="379.9" y2="251.9" stroke="#b21a3c" stroke-width="1.3" />
<line x1="387.3" y1="254.5" x2="387.3" y2="250.9" stroke="#b21a3c" stroke-width="1.3" />
<line x1="397.7" y1="254.2" x2="397.7" y2="250.6" stroke="#b21a3c" stroke-width="1.3" />
<line x1="410.8" y1="252" x2="410.8" y2="248.4" stroke="#b21a3c" stroke-width="1.3" />
<line x1="417.7" y1="251.8" x2="417.7" y2="248.20000000000002" stroke="#b21a3c" stroke-width="1.3" />
<line x1="433.6" y1="251.6" x2="433.6" y2="248.0" stroke="#b21a3c" stroke-width="1.3" />
<line x1="418.7" y1="307.3" x2="441.1" y2="307.3" stroke="#b21a3c" stroke-width="1.8" />
<text x="444.6" y="310.4" font-size="8.6" text-anchor="start" fill="#1c1c1c" textLength="51.9" lengthAdjust="spacingAndGlyphs" >Fever (≥ 38°C)</text>
<text x="444.6" y="319.9" font-size="8.6" text-anchor="start" fill="#1c1c1c" textLength="59.2" lengthAdjust="spacingAndGlyphs" >Median 2.2 days</text>
<line x1="418.7" y1="328.5" x2="441.1" y2="328.5" stroke="#2f4b72" stroke-width="1.8" />
<text x="444.6" y="331.6" font-size="8.6" text-anchor="start" fill="#1c1c1c" textLength="46" lengthAdjust="spacingAndGlyphs" >NT Grade ≥1</text>
<text x="444.6" y="341.4" font-size="8.6" text-anchor="start" fill="#1c1c1c" textLength="51.9" lengthAdjust="spacingAndGlyphs" >Median 4 days</text>
</svg>
<svg style="position:absolute;left:0;top:0;filter:none" width="520" height="442" viewBox="0 0 520 442">
<rect x="0" y="0" width="520" height="1.5" fill="#000"/>
<rect x="0" y="0" width="1.6" height="442" fill="#000"/>
<rect x="518.1" y="0" width="1.9" height="442" fill="#000"/>
<rect x="0" y="440.1" width="520" height="1.9" fill="#000"/>
</svg>
</body></html>
